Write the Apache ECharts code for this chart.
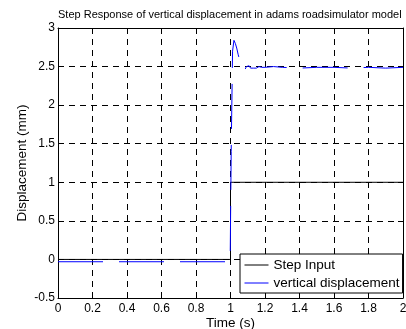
<!DOCTYPE html>
<html>
<head>
<meta charset="utf-8">
<script src="https://cdn.jsdelivr.net/npm/echarts@6/dist/echarts.min.js"></script>
<style>
  html, body { margin: 0; padding: 0; background: #fff; }
  #chart { width: 406px; height: 329px; }
</style>
</head>
<body>
<div id="chart"></div>
<script>
// Step input: 0 until t = 1 s, then 1
const stepTime = [0, 1, 1, 2];
const stepValue = [0, 0, 1, 1];

// Simulated vertical displacement (mm)
const dispTime = [0, 0.998, 1.004, 1.012, 1.020, 1.028, 1.036, 1.044, 1.052, 1.060,
  1.068, 1.076, 1.084, 1.092, 1.100, 1.108, 1.116, 1.124, 1.132, 1.140,
  1.150, 1.165, 1.180, 1.200, 1.250, 1.300, 1.400, 1.500, 1.600, 1.700,
  1.800, 1.900, 2.000];
const dispValue = [-0.03, -0.03, 1.40, 2.70, 2.84, 2.80, 2.74, 2.66, 2.59, 2.52,
  2.47, 2.45, 2.46, 2.50, 2.48, 2.51, 2.48, 2.50, 2.48, 2.50,
  2.48, 2.50, 2.49, 2.49, 2.50, 2.49, 2.48, 2.49, 2.49, 2.48,
  2.49, 2.48, 2.49];

const seriesNames = ['Step Input', 'vertical displacement'];
const titleText = 'Step Response of vertical displacement in adams roadsimulator model';
const xName = 'Time (s)';
const yName = 'Displacement (mm)';

const font = 'Liberation Sans, Arial, Helvetica, sans-serif';
const zip = (a, b) => a.map((t, i) => [t, b[i]]);

const gridDash = { color: '#000', width: 1, type: [6, 5] };
const tick = { show: true, inside: true, length: 5, lineStyle: { color: '#000', width: 1 } };
const nameStyle = { fontFamily: font, fontSize: 13.5, color: '#000' };

const chart = echarts.init(document.getElementById('chart'), null, { renderer: 'canvas' });
chart.setOption({
  animation: false,
  backgroundColor: '#fff',
  title: {
    text: titleText,
    left: 58,
    top: 9,
    padding: 0,
    textStyle: { fontFamily: font, fontSize: 11, fontWeight: 'normal', color: '#000' }
  },
  grid: { left: 58, top: 28, right: 3, bottom: 31, containLabel: false, outerBoundsMode: 'none' },
  legend: {
    orient: 'vertical',
    left: 240,
    top: 254,
    padding: [4, 3, 3, 4],
    itemGap: 4,
    itemWidth: 24,
    itemHeight: 14,
    borderColor: '#000',
    borderWidth: 1,
    borderRadius: 0,
    backgroundColor: '#fff',
    data: seriesNames,
    itemStyle: { opacity: 0 },
    lineStyle: { type: 'solid', width: 1 },
    textStyle: { fontFamily: font, fontSize: 13.5, color: '#000' }
  },
  xAxis: [{
    type: 'value', min: 0, max: 2, interval: 0.2,
    name: xName, nameLocation: 'middle', nameGap: 18, nameMoveOverlap: false,
    nameTextStyle: nameStyle,
    axisLine: { show: true, onZero: false, lineStyle: { color: '#000', width: 1 } },
    axisTick: tick,
    axisLabel: { fontFamily: font, fontSize: 12, color: '#000', margin: 5 },
    splitLine: { show: true, lineStyle: gridDash }
  }, {
    type: 'value', min: 0, max: 2, interval: 0.2, position: 'top',
    axisLine: { show: true, onZero: false, lineStyle: { color: '#000', width: 1 } },
    axisTick: tick, axisLabel: { show: false }, splitLine: { show: false }
  }],
  yAxis: [{
    type: 'value', min: -0.5, max: 3, interval: 0.5,
    name: yName, nameLocation: 'middle', nameGap: 29, nameMoveOverlap: false,
    nameTextStyle: nameStyle,
    axisLine: { show: true, onZero: false, lineStyle: { color: '#000', width: 1 } },
    axisTick: tick,
    axisLabel: { fontFamily: font, fontSize: 12, color: '#000', margin: 3 },
    splitLine: { show: true, lineStyle: gridDash }
  }, {
    type: 'value', min: -0.5, max: 3, interval: 0.5, position: 'right',
    axisLine: { show: true, onZero: false, lineStyle: { color: '#000', width: 1 } },
    axisTick: tick, axisLabel: { show: false }, splitLine: { show: false }
  }],
  series: [{
    name: seriesNames[0],
    type: 'line',
    data: zip(stepTime, stepValue),
    symbol: 'none',
    itemStyle: { color: '#000' },
    lineStyle: { color: '#000', width: 1 },
    z: 2
  }, {
    name: seriesNames[1],
    type: 'line',
    data: zip(dispTime, dispValue),
    symbol: 'none',
    itemStyle: { color: '#0000ff' },
    lineStyle: { color: '#0000ff', width: 1, type: [45, 16] },
    z: 3
  }]
});
</script>
</body>
</html>
